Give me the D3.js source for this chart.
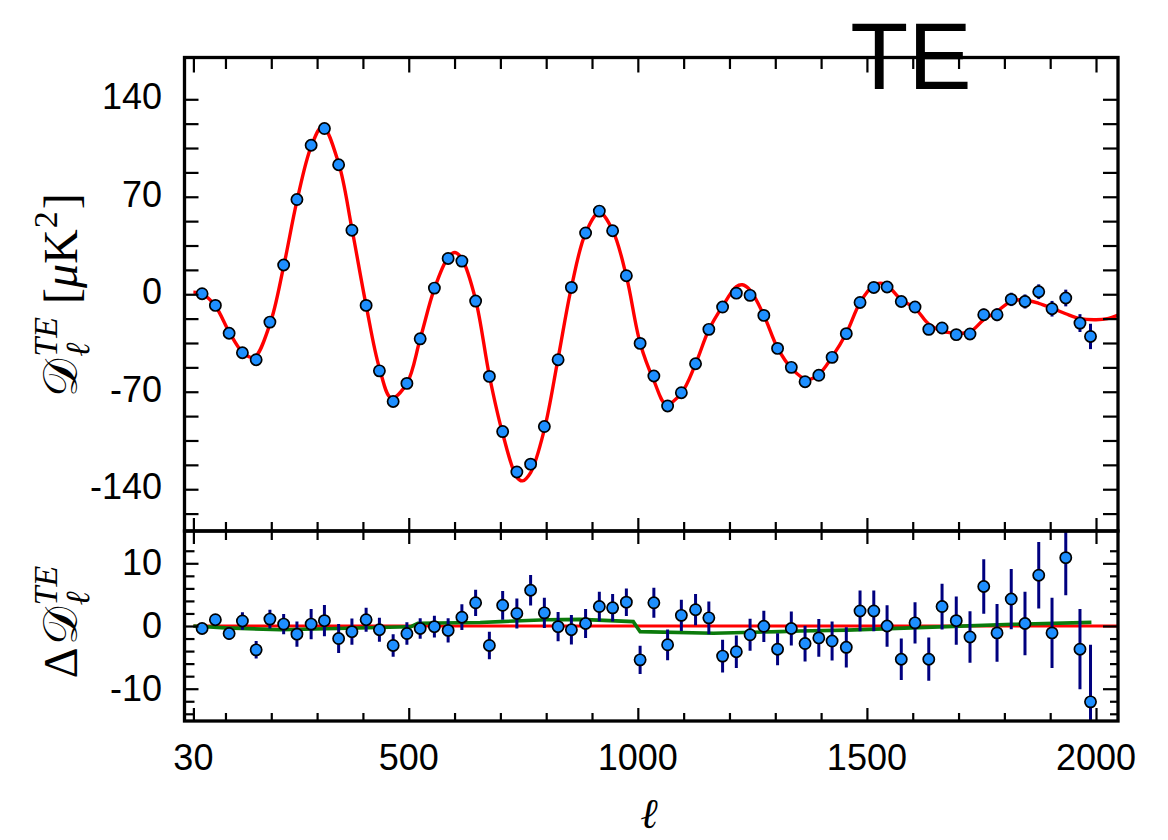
<!DOCTYPE html>
<html><head><meta charset="utf-8">
<script src="https://cdn.jsdelivr.net/npm/d3@7"></script>
<style>body{margin:0;background:#fff} svg{display:block}</style>
</head><body><svg id="c" width="1168" height="840"></svg>
<script>
// ---------- data ----------
const binEll = [49,78,108,137,167,197,227,256,287,316,
  347,376,407,436,466,496,525,556,586,616,
  646,676,705,736,766,796,826,855,886,916,
  945,975,1005,1035,1065,1095,1126,1155,1185,1215,
  1245,1275,1305,1335,1365,1395,1424,1455,1485,1515,
  1544,1575,1605,1635,1664,1695,1725,1755,1784,1815,
  1845,1875,1904,1934,1965,1988];
const teData = [0.4,-8,-28,-42,-47,-20,21,68,107,119,
  93,46,-8,-55,-77,-64,-32,4.4,25.7,23.8,
  -4.9,-59,-98.6,-127.6,-122,-95,-47,4.9,44,59.7,
  45.6,13.3,-35.3,-58.7,-80.2,-70.7,-49.9,-25.2,-9.2,0.8,
  -0.8,-15.2,-38.9,-52.5,-62.8,-58.2,-45.3,-28.3,-5.9,4.9,
  5.2,-5.2,-9.2,-25.2,-24.2,-29,-28.5,-14.7,-14.7,-3.7,
  -5.2,1.8,-10.4,-2.7,-20.7,-30.3];
const teErr = [0.7,0.8,1.0,1.4,1.4,1.5,1.6,2.0,2.4,2.5,
  2.3,2.1,1.9,1.9,1.8,1.8,1.65,1.75,1.95,2.05,
  2.1,2.2,2.3,2.4,2.45,2.4,2.35,2.35,2.3,2.35,
  2.2,2.2,2.25,2.4,2.45,2.5,2.5,2.6,2.6,2.6,
  2.55,2.5,2.55,2.7,2.85,3.0,3.1,3.2,3.25,3.25,
  3.3,3.3,3.3,3.45,3.65,3.85,4.1,4.35,4.6,4.8,
  5.05,5.3,5.6,6.0,6.4,9.1];
const resData = [-0.4,1.0,-1.2,0.8,-3.8,1.1,0.3,-1.3,0.3,0.85,
  -2.0,-0.9,1.0,-0.6,-3.1,-1.2,-0.4,-0.1,-0.7,1.4,
  3.7,-3.1,3.3,2.0,5.7,2.1,-0.1,-0.6,0.4,3.1,
  2.9,3.8,-5.4,3.7,-3.0,1.7,2.6,1.3,-4.8,-4.1,
  -1.4,-0.05,-3.7,-0.4,-2.8,-1.9,-2.4,-3.4,2.4,2.4,
  0,-5.3,0.5,-5.3,3.1,0.85,-1.75,6.3,-1.1,4.3,
  0.4,8.1,-1.1,10.9,-3.7,-12.1];

const theoryEll = [30,49,78,108,137,162,197,227,256,287,312,347,376,407,436,462,496,525,556,586,601,616,646,676,705,736,748,766,796,826,855,886,916,945,975,1005,1035,1062,1095,1126,1155,1185,1215,1228,1245,1275,1305,1335,1369,1395,1424,1455,1485,1515,1530,1544,1575,1605,1635,1664,1700,1725,1755,1784,1815,1840,1875,1904,1934,1965,2000,2025,2048];
const theoryTE = [1.5,0.3,-8.5,-27,-41.5,-45.5,-21.5,20,67,106,120.5,94,47,-8,-53,-74.5,-64,-32,4,26.5,30,25.5,-4,-58.5,-100,-131.5,-134,-128,-97,-46,5,44,58.7,46,13,-35,-62,-79,-71,-50,-25.5,-8.5,5.5,6.8,3,-15,-38.5,-53,-61.3,-57.5,-45,-28,-6,6.5,8,6.5,-4,-10,-21.5,-26.5,-28,-27,-18.3,-12.3,-5,-4,-6.5,-10,-14,-17.5,-18.3,-17.5,-15];

const zeroEll = [30,2048];
const zeroRes = [0,0];
const greenEll = [30,100,220,343,480,505,520,656,700,801,874,990,1005,1165,1311,1354,1456,1674,1819,1990];
const greenRes = [0,-0.3,-0.6,-0.4,-0.15,-0.1,0.45,0.55,0.7,1.0,1.05,0.7,-0.9,-1.15,-0.9,-0.8,-0.65,-0.1,0.27,0.58];

const xMajorTicks = [30,500,1000,1500,2000];
const xMinorTicks = [100,200,300,400,600,700,800,900,1100,1200,1300,1400,1600,1700,1800,1900];
const xTickLabels = ["30","500","1000","1500","2000"];
const yTopTicks = [-157.5,-140,-122.5,-105,-87.5,-70,-52.5,-35,-17.5,0,17.5,35,52.5,70,87.5,105,122.5,140];
const yTopLabelVals = [140,70,0,-70,-140];
const yTopLabels = ["140","70","0","-70","-140"];
const yBotMajor = [-10,0,10];
const yBotMinor = [-14,-12,-8,-6,-4,-2,2,4,6,8,12];
const yBotLabels = ["-10","0","10"];

// ---------- layout ----------
const L = 184.5, R = 1118, T = 57.5, M = 531, B = 721;
const svg = d3.select("#c");
const x = d3.scaleLinear().domain([10.6, 2048]).range([L, R]);
const yT = d3.scaleLinear().domain([-170, 170]).range([M, T]);
const yB = d3.scaleLinear().domain([-15.15, 15.15]).range([B, M]);

const defs = svg.append("defs");
defs.append("clipPath").attr("id","cpT").append("rect").attr("x",L).attr("y",T).attr("width",R-L).attr("height",M-T);
defs.append("clipPath").attr("id","cpB").append("rect").attr("x",L).attr("y",M).attr("width",R-L).attr("height",B-M);

const BLUE = "#1e8fff", NAVY = "#00007f";
const MR = 5.6;

// top panel
const gT = svg.append("g").attr("clip-path","url(#cpT)");
const theory = theoryEll.map((l,i)=>[l, theoryTE[i]]);
gT.append("path").datum(theory)
  .attr("d", d3.line().x(d=>x(d[0])).y(d=>yT(d[1])).curve(d3.curveCatmullRom.alpha(0.5)))
  .attr("fill","none").attr("stroke","#ff0000").attr("stroke-width",3.4);
const pts = binEll.map((l,i)=>({l, v:teData[i], e:teErr[i], r:resData[i]}));
gT.selectAll("line.eb").data(pts).join("line").attr("class","eb")
  .attr("x1",d=>x(d.l)).attr("x2",d=>x(d.l))
  .attr("y1",d=>yT(d.v-d.e)).attr("y2",d=>yT(d.v+d.e))
  .attr("stroke",NAVY).attr("stroke-width",3);
gT.selectAll("circle").data(pts).join("circle")
  .attr("cx",d=>x(d.l)).attr("cy",d=>yT(d.v)).attr("r",MR)
  .attr("fill",BLUE).attr("stroke","#000").attr("stroke-width",1.7);

// bottom panel
const gB = svg.append("g").attr("clip-path","url(#cpB)");
gB.append("path").datum(zeroEll.map((l,i)=>[l,zeroRes[i]]))
  .attr("d", d3.line().x(d=>x(d[0])).y(d=>yB(d[1])))
  .attr("fill","none").attr("stroke","#ff0000").attr("stroke-width",3);
gB.append("path").datum(greenEll.map((l,i)=>[l,greenRes[i]]))
  .attr("d", d3.line().x(d=>x(d[0])).y(d=>yB(d[1])))
  .attr("fill","none").attr("stroke","#0b7a0b").attr("stroke-width",3.6);
gB.selectAll("line.eb").data(pts).join("line").attr("class","eb")
  .attr("x1",d=>x(d.l)).attr("x2",d=>x(d.l))
  .attr("y1",d=>yB(d.r-d.e)).attr("y2",d=>yB(d.r+d.e))
  .attr("stroke",NAVY).attr("stroke-width",3);
gB.selectAll("circle").data(pts).join("circle")
  .attr("cx",d=>x(d.l)).attr("cy",d=>yB(d.r)).attr("r",MR)
  .attr("fill",BLUE).attr("stroke","#000").attr("stroke-width",1.7);

// ticks via d3 axes (inward)
function ax(axisFn, scale, vals, len, tx, ty) {
  const g = svg.append("g").attr("transform",`translate(${tx},${ty})`)
    .call(axisFn(scale).tickValues(vals).tickSize(-len).tickFormat(""));
  g.select(".domain").remove();
  g.selectAll(".tick line").attr("stroke","#000").attr("stroke-width",2.2);
  return g;
}
ax(d3.axisTop, x, xMajorTicks, 15, 0, T);
ax(d3.axisTop, x, xMinorTicks, 11.5, 0, T);
ax(d3.axisBottom, x, xMajorTicks, 13, 0, M);
ax(d3.axisBottom, x, xMinorTicks, 9, 0, M);
ax(d3.axisTop, x, xMajorTicks, 13, 0, M);
ax(d3.axisTop, x, xMinorTicks, 9, 0, M);
ax(d3.axisBottom, x, xMajorTicks, 13, 0, B);
ax(d3.axisBottom, x, xMinorTicks, 8, 0, B);
ax(d3.axisLeft, yT, yTopTicks, 14, L, 0);
ax(d3.axisRight, yT, yTopTicks, 15, R, 0);
ax(d3.axisLeft, yB, yBotMajor, 14, L, 0);
ax(d3.axisLeft, yB, yBotMinor, 10, L, 0);
ax(d3.axisRight, yB, yBotMajor, 15, R, 0);
ax(d3.axisRight, yB, yBotMinor, 8, R, 0);

// frames
[[T,M],[M,B]].forEach(([a,b])=>{
  svg.append("rect").attr("x",L).attr("y",a).attr("width",R-L).attr("height",b-a)
    .attr("fill","none").attr("stroke","#000").attr("stroke-width",3.3);
});

// tick labels
const SANS = "'Liberation Sans', Arial, Helvetica, sans-serif";
svg.append("g").selectAll("text").data(xMajorTicks).join("text")
  .attr("x",d=>x(d)).attr("y",769.5).attr("text-anchor","middle")
  .attr("font-family",SANS).attr("font-size",36).attr("fill","#000")
  .text((d,i)=>xTickLabels[i]);
svg.append("g").selectAll("text").data(yTopLabelVals).join("text")
  .attr("x",162).attr("y",d=>yT(d)+10).attr("text-anchor","end")
  .attr("font-family",SANS).attr("font-size",36).attr("fill","#000")
  .text((d,i)=>yTopLabels[i]);
svg.append("g").selectAll("text").data(yBotMajor.slice().reverse()).join("text")
  .attr("x",162).attr("y",d=>yB(d)+12).attr("text-anchor","end")
  .attr("font-family",SANS).attr("font-size",36).attr("fill","#000")
  .text((d,i)=>yBotLabels.slice().reverse()[i]);

// title
svg.append("text").attr("x",911).attr("y",88.5).attr("text-anchor","middle")
  .attr("font-family",SANS).attr("font-size",95).attr("fill","#000").text("TE");

// math-like labels
const SERIF = "'Liberation Serif', 'DejaVu Serif', serif";
const SCRIPT = "'DejaVu Serif', 'DejaVu Sans', 'Liberation Serif', serif";
function mathLabel(parent, items) {
  const g = parent.append("g");
  let cur = 0, prevStart = 0, prevEnd = 0;
  items.forEach(it => {
    const t = g.append("text").attr("font-family", it.fam || SERIF)
      .attr("font-size", it.size).attr("font-style", it.it ? "italic" : "normal")
      .attr("fill","#000").attr("y", it.shift || 0).text(it.t);
    const w = t.node().getComputedTextLength();
    let start;
    if (it.stack) { start = prevStart; cur = Math.max(prevEnd, start + w); }
    else { start = cur + (it.gap || 0); cur = start + w; }
    t.attr("x", start);
    prevStart = start; prevEnd = start + w;
    if (!it.stack) { prevEnd = cur; }
  });
  return {g, width: cur};
}
(function(){
  const holder = svg.append("g");
  const lab = mathLabel(holder, [
    {t:"𝒟", size:48, fam:SCRIPT},
    {t:"TE", size:34, it:true, shift:-20, gap:2},
    {t:"ℓ", size:34, it:true, shift:12, stack:true},
    {t:"[", size:48, gap:13},
    {t:"μ", size:48, it:true},
    {t:"K", size:48},
    {t:"2", size:34, shift:-20, gap:1},
    {t:"]", size:48, gap:2}
  ]);
  const cy = 295, bx = 77;
  lab.g.attr("transform", `translate(${bx},${cy + lab.width/2}) rotate(-90)`);
})();
(function(){
  const holder = svg.append("g");
  const lab = mathLabel(holder, [
    {t:"Δ", size:48},
    {t:"𝒟", size:48, fam:SCRIPT, gap:2},
    {t:"TE", size:34, it:true, shift:-20, gap:2},
    {t:"ℓ", size:34, it:true, shift:12, stack:true}
  ]);
  const cy = 622, bx = 77;
  lab.g.attr("transform", `translate(${bx},${cy + lab.width/2}) rotate(-90)`);
})();
svg.append("text").attr("x",649).attr("y",828).attr("text-anchor","middle")
  .attr("font-family",SERIF).attr("font-style","italic").attr("font-size",42)
  .attr("fill","#000").text("ℓ");
</script></body></html>
